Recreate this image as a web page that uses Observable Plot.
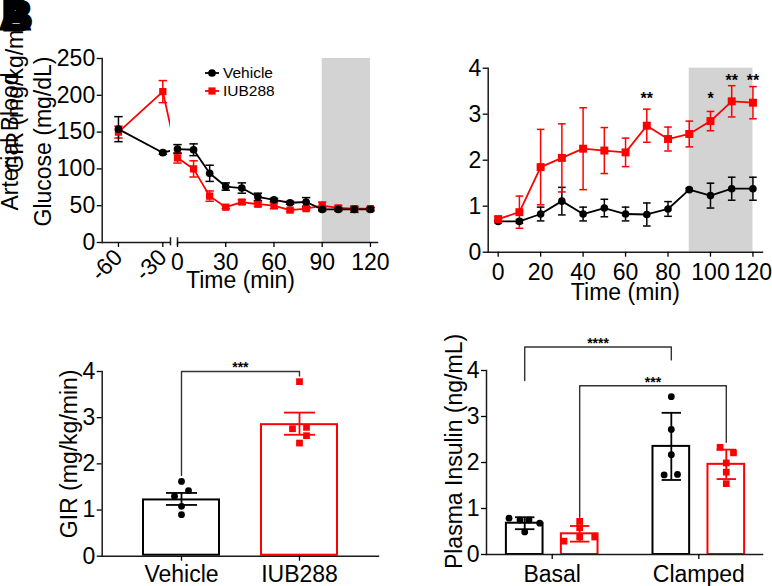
<!DOCTYPE html>
<html><head><meta charset="utf-8">
<script src="https://cdn.jsdelivr.net/npm/d3@7"></script>
<script src="https://cdn.jsdelivr.net/npm/@observablehq/plot@0.6"></script>
<style>
body{margin:0;background:#fff;}
#fig{position:relative;width:772px;height:586px;overflow:hidden;font-family:"Liberation Sans",Arial,sans-serif;color:#000;}
.panel{position:absolute;}
.legend{position:absolute;left:205px;top:64px;font-size:15.5px;}
.legend .row{display:flex;align-items:center;height:18px;}
.legend svg{margin-right:4px;}
.letter{position:absolute;font-weight:bold;font-size:42px;line-height:42px;-webkit-text-stroke:3px #000;}
</style></head><body><div id="fig"></div>
<script>
// ---------------- Panel A: arterial blood glucose ----------------
const glucoseTime = [-60, -30, 0, 10, 20, 30, 40, 50, 60, 70, 80, 90, 100, 110, 120];
const glucoseVehicle = [154, 122, 127, 126, 94, 76, 74, 62, 58, 54, 55, 45, 45, 45, 45];
const glucoseVehicleSEM = [17, 2, 6, 8, 11, 5, 7, 5, 2, 2, 6, 2, 2, 4, 2];
const glucoseIUB288 = [150, 205, 115, 100, 63, 48, 55, 52, 50, 44, 46, 50, 47, 46, 46];
const glucoseIUB288SEM = [8, 15, 7, 11, 7, 2, 3, 3, 4, 2, 2, 5, 3, 2, 2];
const glucoseTicksPre = [-60, -30];
const glucoseTicksPost = [0, 30, 60, 90, 120];
const glucoseYTicks = [0, 50, 100, 150, 200, 250];
const clampWindow = [90, 120];
const seriesNames = ["Vehicle", "IUB288"];

// ---------------- Panel B: GIR over time ----------------
const girTime = [0, 10, 20, 30, 40, 50, 60, 70, 80, 90, 100, 110, 120];
const girVehicle = [0.67, 0.67, 0.83, 1.11, 0.83, 0.96, 0.83, 0.82, 0.94, 1.36, 1.23, 1.38, 1.38];
const girVehicleSEM = [0.03, 0.04, 0.15, 0.30, 0.15, 0.19, 0.15, 0.25, 0.16, 0.03, 0.27, 0.25, 0.25];
const girIUB288 = [0.72, 0.87, 1.85, 2.05, 2.25, 2.21, 2.17, 2.75, 2.46, 2.57, 2.85, 3.28, 3.25];
const girIUB288SEM = [0.05, 0.35, 0.82, 0.74, 0.89, 0.50, 0.31, 0.36, 0.26, 0.28, 0.21, 0.34, 0.35];
const girYTicks = [0, 1, 2, 3, 4];
const girXTicks = [0, 20, 40, 60, 80, 100, 120];
const girSigTime = [70, 100, 110, 120];
const girSigLabel = ["**", "*", "**", "**"];
const girSigY = [3.41, 3.41, 3.82, 3.82];

// ---------------- Panel C: mean GIR ----------------
const girAvgGroups = ["Vehicle", "IUB288"];
const girAvgMean = [1.24, 2.87];
const girAvgSEM = [0.13, 0.24];
const girAvgVehiclePts = [1.62, 1.42, 1.30, 1.08, 0.90];
const girAvgVehicleJitter = [0, 7, -7, 0, 0];
const girAvgIUB288Pts = [3.78, 2.76, 2.79, 2.61, 2.45];
const girAvgIUB288Jitter = [0, -7, 7, 7, 0];
const girAvgYTicks = [0, 1, 2, 3, 4];
const girAvgBracket = [{from: "Vehicle", to: "IUB288", top: 4.0, fromBottom: 1.75, toBottom: 3.9, label: "***"}];

// ---------------- Panel D: plasma insulin ----------------
const insulinConditions = ["Basal", "Clamped"];
const insulinVehicleMean = [0.68, 2.35];
const insulinVehicleSD = [0.13, 0.73];
const insulinIUB288Mean = [0.45, 1.96];
const insulinIUB288SD = [0.17, 0.32];
const insulinVehiclePts = [[0.79, 0.75, 0.75, 0.68, 0.49], [3.43, 2.72, 2.17, 1.73, 1.74]];
const insulinVehicleJitter = [[-15.7, -4.7, 4.3, 15, 0], [0, 0, 0, -7.2, 6.2]];
const insulinIUB288Pts = [[0.72, 0.58, 0.29, 0.38, 0.38], [2.33, 2.21, 1.99, 1.79, 1.54]];
const insulinIUB288Jitter = [[0, 0, -15.7, 0, 15], [-6.2, 7.2, 0, 0, 0]];
const insulinYTicks = [0, 1, 2, 3, 4];
const insulinBrackets = [
  {fromCond: 0, fromSeries: "Vehicle", toCond: 1, toSeries: "Vehicle", top: 4.51, fromBottom: 3.78, toBottom: 4.23, label: "****"},
  {fromCond: 0, fromSeries: "IUB288", toCond: 1, toSeries: "IUB288", top: 3.67, fromBottom: 0.81, toBottom: 2.44, label: "***"}
];

// ---------------- styling ----------------
const FONT = '"Liberation Sans", Arial, Helvetica, sans-serif';
const RED = "#ff0000", BLK = "#000000", AXIS = "#1a1a1a", SHADE = "#d3d3d3", BRACKET = "#333333";
const FS = 23;
const baseStyle = {background: "transparent", fontFamily: FONT, fontSize: FS + "px", overflow: "visible", color: "#000"};
const capSymbol = hw => ({draw(ctx) { ctx.moveTo(-hw, 0); ctx.lineTo(hw, 0); }});
const fmt = d => String(d);

function errorMarks(data, {x, color, hw, sw, lo = d => d.v - d.e, hi = d => d.v + d.e}) {
  return [
    Plot.ruleX(data, {x, y1: lo, y2: hi, stroke: color, strokeWidth: sw}),
    Plot.dot(data, {x, y: hi, symbol: capSymbol(hw), fill: "none", stroke: color, strokeWidth: sw}),
    Plot.dot(data, {x, y: lo, symbol: capSymbol(hw), fill: "none", stroke: color, strokeWidth: sw})
  ];
}
function jitterDots(pts, opts) {
  return d3.groups(pts, d => d.j).map(([j, g]) => Plot.dot(g, {...opts, dx: j}));
}
function yLabel(text, dx, dy) {
  return Plot.text([text], {text: d => d, frameAnchor: "left", textAnchor: "middle", lineAnchor: "middle", rotate: -90, dx, dy, fontSize: FS});
}
function xLabel(text, dy) {
  return Plot.text([text], {text: d => d, frameAnchor: "bottom", textAnchor: "middle", lineAnchor: "middle", dy, fontSize: FS});
}

const fig = document.getElementById("fig");
function place(node, left, top) {
  const d = document.createElement("div");
  d.className = "panel"; d.style.left = left + "px"; d.style.top = top + "px";
  d.appendChild(node); fig.appendChild(d);
}

// ---------- A ----------
const vehA = glucoseTime.map((t, i) => ({t, v: glucoseVehicle[i], e: glucoseVehicleSEM[i]}));
const iubA = glucoseTime.map((t, i) => ({t, v: glucoseIUB288[i], e: glucoseIUB288SEM[i]}));
const xDomA = [-71, -24.8, 0, 125.2];
const xRangeA = [101.7, 170, 177, 378.3];
const yMaxA = glucoseYTicks[glucoseYTicks.length - 1];
const plotA = Plot.plot({
  width: 390, height: 290,
  marginLeft: 101.7, marginRight: 11.7, marginTop: 58, marginBottom: 48,
  style: baseStyle,
  x: {type: "linear", domain: xDomA, range: xRangeA},
  y: {domain: [0, yMaxA]},
  marks: [
    Plot.rect([clampWindow], {x1: d => d[0], x2: d => d[1], y1: 0, y2: yMaxA, fill: SHADE}),
    Plot.line(iubA, {x: "t", y: "v", stroke: RED, strokeWidth: 1.8}),
    Plot.line(vehA, {x: "t", y: "v", stroke: BLK, strokeWidth: 1.8}),
    Plot.rect([xDomA], {x1: d => d[1], x2: d => d[2], y1: 0, y2: yMaxA, fill: "white"}),
    ...errorMarks(iubA, {x: "t", color: RED, hw: 4.2, sw: 1.5}),
    ...errorMarks(vehA, {x: "t", color: BLK, hw: 4.2, sw: 1.5}),
    Plot.dot(iubA, {x: "t", y: "v", symbol: "square", r: 4.1, fill: RED}),
    Plot.dot(vehA, {x: "t", y: "v", r: 3.85, fill: BLK}),
    Plot.frame({anchor: "left", stroke: AXIS, strokeWidth: 1.5}),
    Plot.ruleY([[xDomA[0], xDomA[1]], [xDomA[2], xDomA[3]]], {y: 0, x1: d => d[0], x2: d => d[1], stroke: AXIS, strokeWidth: 1.5}),
    Plot.ruleX([xDomA[1], xDomA[2]], {y1: -4.5, y2: 6.5, stroke: AXIS, strokeWidth: 1.5}),
    Plot.axisY({ticks: glucoseYTicks, tickFormat: fmt, tickSize: 5, tickPadding: 2, label: null, strokeWidth: 1.3, fontSize: FS}),
    Plot.axisX({ticks: glucoseTicksPre, tickFormat: fmt, tickRotate: -45, tickSize: 5, tickPadding: 6, label: null, strokeWidth: 1.3, fontSize: FS}),
    Plot.axisX({ticks: glucoseTicksPost, tickFormat: fmt, tickSize: 5, tickPadding: 6, label: null, strokeWidth: 1.3, fontSize: FS}),
    xLabel("Time (min)", 38),
    yLabel("GIR (mg/kg/min)", -87, -62),
    yLabel("Arterial Blood", -91.7, -9),
    yLabel("Glucose (mg/dL)", -59, -9)
  ]
});
place(plotA, 0, 0);

// ---------- B ----------
const vehB = girTime.map((t, i) => ({t, v: girVehicle[i], e: girVehicleSEM[i]}));
const iubB = girTime.map((t, i) => ({t, v: girIUB288[i], e: girIUB288SEM[i]}));
const sigB = girSigTime.map((t, i) => ({t, y: girSigY[i], label: girSigLabel[i]}));
const yMaxB = girYTicks[girYTicks.length - 1];
const plotB = Plot.plot({
  width: 382, height: 310,
  marginLeft: 97.7, marginRight: 10, marginTop: 67.7, marginBottom: 58.3,
  style: baseStyle,
  x: {domain: [-4.7, 124.5]},
  y: {domain: [0, yMaxB]},
  marks: [
    Plot.rect([clampWindow], {x1: d => d[0], x2: d => d[1], y1: 0, y2: yMaxB, fill: SHADE}),
    Plot.line(vehB, {x: "t", y: "v", stroke: BLK, strokeWidth: 1.8}),
    Plot.line(iubB, {x: "t", y: "v", stroke: RED, strokeWidth: 1.8}),
    ...errorMarks(vehB, {x: "t", color: BLK, hw: 3.8, sw: 1.5}),
    ...errorMarks(iubB, {x: "t", color: RED, hw: 3.8, sw: 1.5}),
    Plot.dot(vehB, {x: "t", y: "v", r: 3.8, fill: BLK}),
    Plot.dot(iubB, {x: "t", y: "v", symbol: "square", r: 4.5, fill: RED}),
    Plot.text(sigB, {x: "t", y: "y", text: "label", fontSize: 16, fontWeight: "bold", dy: 4}),
    Plot.frame({anchor: "left", stroke: AXIS, strokeWidth: 1.5}),
    Plot.frame({anchor: "bottom", stroke: AXIS, strokeWidth: 1.5}),
    Plot.axisY({ticks: girYTicks, tickFormat: fmt, tickSize: 5, tickPadding: 2, label: null, strokeWidth: 1.3, fontSize: FS}),
    Plot.axisX({ticks: girXTicks, tickFormat: fmt, tickSize: 5, tickPadding: 6, label: null, strokeWidth: 1.3, fontSize: FS}),
    xLabel("Time (min)", 40)
  ]
});
place(plotB, 390, 0);

// ---------- C ----------
const barsC = girAvgGroups.map((g, i) => ({group: g, v: girAvgMean[i], e: girAvgSEM[i]}));
const vehPtsC = girAvgVehiclePts.map((v, i) => ({group: "Vehicle", v, j: girAvgVehicleJitter[i]}));
const iubPtsC = girAvgIUB288Pts.map((v, i) => ({group: "IUB288", v, j: girAvgIUB288Jitter[i]}));
const bracketLinesC = girAvgBracket.flatMap((b, k) => [
  {id: k, x: b.from, y: b.fromBottom}, {id: k, x: b.from, y: b.top},
  {id: k, x: b.to, y: b.top}, {id: k, x: b.to, y: b.toBottom}]);
const plotC = Plot.plot({
  width: 390, height: 296,
  marginLeft: 101.7, marginRight: 12, marginTop: 81, marginBottom: 30.3,
  style: baseStyle,
  x: {type: "band", domain: girAvgGroups, padding: 0.34},
  y: {domain: [0, girAvgYTicks[girAvgYTicks.length - 1]]},
  marks: [
    Plot.barY([barsC[0]], {x: "group", y: "v", fill: "white", stroke: BLK, strokeWidth: 2, inset: 1}),
    Plot.barY([barsC[1]], {x: "group", y: "v", fill: "white", stroke: RED, strokeWidth: 2, inset: 1}),
    Plot.line(bracketLinesC, {x: "x", y: "y", z: "id", stroke: BRACKET, strokeWidth: 1.4}),
    Plot.text(girAvgBracket, {y: "top", text: "label", fontSize: 14, fontWeight: "bold", dy: -4}),
    ...errorMarks([barsC[0]], {x: "group", color: BLK, hw: 15.5, sw: 1.8}),
    ...errorMarks([barsC[1]], {x: "group", color: RED, hw: 15.5, sw: 1.8}),
    ...jitterDots(vehPtsC, {x: "group", y: "v", r: 3.4, fill: BLK}),
    ...jitterDots(iubPtsC, {x: "group", y: "v", symbol: "square", r: 3.8, fill: RED}),
    Plot.frame({anchor: "left", stroke: AXIS, strokeWidth: 1.5}),
    Plot.frame({anchor: "bottom", stroke: AXIS, strokeWidth: 1.5}),
    Plot.axisY({ticks: girAvgYTicks, tickFormat: fmt, tickSize: 5, tickPadding: 2, label: null, strokeWidth: 1.3, fontSize: FS}),
    Plot.axisX({tickSize: 5, tickPadding: 4, label: null, strokeWidth: 1.3, fontSize: FS}),
    yLabel("GIR (mg/kg/min)", -32.6, -10)
  ]
});
place(plotC, 0, 290);

// ---------- D ----------
const offD = {Vehicle: -0.1875, IUB288: 0.1875};
const halfBarD = 0.125;
const barsD = [
  ...insulinConditions.map((c, i) => ({series: "Vehicle", gi: i, v: insulinVehicleMean[i], e: insulinVehicleSD[i]})),
  ...insulinConditions.map((c, i) => ({series: "IUB288", gi: i, v: insulinIUB288Mean[i], e: insulinIUB288SD[i]}))
].map(d => ({...d, x: d.gi + offD[d.series]}));
const vehPtsD = insulinVehiclePts.flatMap((arr, i) => arr.map((v, k) => ({x: i + offD.Vehicle, v, j: insulinVehicleJitter[i][k]})));
const iubPtsD = insulinIUB288Pts.flatMap((arr, i) => arr.map((v, k) => ({x: i + offD.IUB288, v, j: insulinIUB288Jitter[i][k]})));
const bracketLinesD = insulinBrackets.flatMap((b, k) => {
  const x1 = b.fromCond + offD[b.fromSeries], x2 = b.toCond + offD[b.toSeries];
  return [{id: k, x: x1, y: b.fromBottom}, {id: k, x: x1, y: b.top}, {id: k, x: x2, y: b.top}, {id: k, x: x2, y: b.toBottom}];
});
const bracketLabelsD = insulinBrackets.map(b => ({x: (b.fromCond + offD[b.fromSeries] + b.toCond + offD[b.toSeries]) / 2, y: b.top, label: b.label}));
const vehBarsD = barsD.filter(d => d.series === "Vehicle");
const iubBarsD = barsD.filter(d => d.series === "IUB288");
const plotD = Plot.plot({
  width: 382, height: 296,
  marginLeft: 96, marginRight: 10, marginTop: 80, marginBottom: 32,
  style: baseStyle,
  x: {domain: [-0.4482, 1.4345]},
  y: {domain: [0, insulinYTicks[insulinYTicks.length - 1]]},
  marks: [
    Plot.rectY(vehBarsD, {x1: d => d.x - halfBarD, x2: d => d.x + halfBarD, y: "v", fill: "white", stroke: BLK, strokeWidth: 2}),
    Plot.rectY(iubBarsD, {x1: d => d.x - halfBarD, x2: d => d.x + halfBarD, y: "v", fill: "white", stroke: RED, strokeWidth: 2}),
    Plot.line(bracketLinesD, {x: "x", y: "y", z: "id", stroke: BRACKET, strokeWidth: 1.4}),
    Plot.text(bracketLabelsD, {x: "x", y: "y", text: "label", fontSize: 14, fontWeight: "bold", dy: -3.5}),
    ...errorMarks(vehBarsD, {x: "x", color: BLK, hw: 9.7, sw: 1.8}),
    ...errorMarks(iubBarsD, {x: "x", color: RED, hw: 9.7, sw: 1.8}),
    ...jitterDots(vehPtsD, {x: "x", y: "v", r: 3.4, fill: BLK}),
    ...jitterDots(iubPtsD, {x: "x", y: "v", symbol: "square", r: 3.8, fill: RED}),
    Plot.frame({anchor: "left", stroke: AXIS, strokeWidth: 1.5}),
    Plot.frame({anchor: "bottom", stroke: AXIS, strokeWidth: 1.5}),
    Plot.axisY({ticks: insulinYTicks, tickFormat: fmt, tickSize: 5, tickPadding: 2, label: null, strokeWidth: 1.3, fontSize: FS}),
    Plot.axisX({ticks: insulinConditions.map((c, i) => i), tickFormat: i => insulinConditions[i], tickSize: 5, tickPadding: 6, label: null, strokeWidth: 1.3, fontSize: FS}),
    yLabel("Plasma Insulin (ng/mL)", -32, -11)
  ]
});
place(plotD, 390, 290);

// ---------- legend (panel A) ----------
const legend = document.createElement("div");
legend.className = "legend";
legend.innerHTML = seriesNames.map((name, i) => {
  const sym = i === 0
    ? `<circle cx="7" cy="9" r="3.85" fill="${BLK}"/>`
    : `<rect x="3.4" y="5.4" width="7.2" height="7.2" fill="${RED}"/>`;
  const col = i === 0 ? BLK : RED;
  return `<div class="row"><svg width="14" height="18"><line x1="0" x2="14" y1="9" y2="9" stroke="${col}" stroke-width="1.8"/>${sym}</svg><span>${name}</span></div>`;
}).join("");
fig.appendChild(legend);

// ---------- overlapping panel letters ----------
["A", "B"].forEach((letter, i) => {
  const el = document.createElement("div");
  el.className = "letter";
  el.textContent = letter;
  el.style.left = (i * 2) + "px";
  el.style.top = (-6 + i) + "px";
  fig.appendChild(el);
});
</script></body></html>
